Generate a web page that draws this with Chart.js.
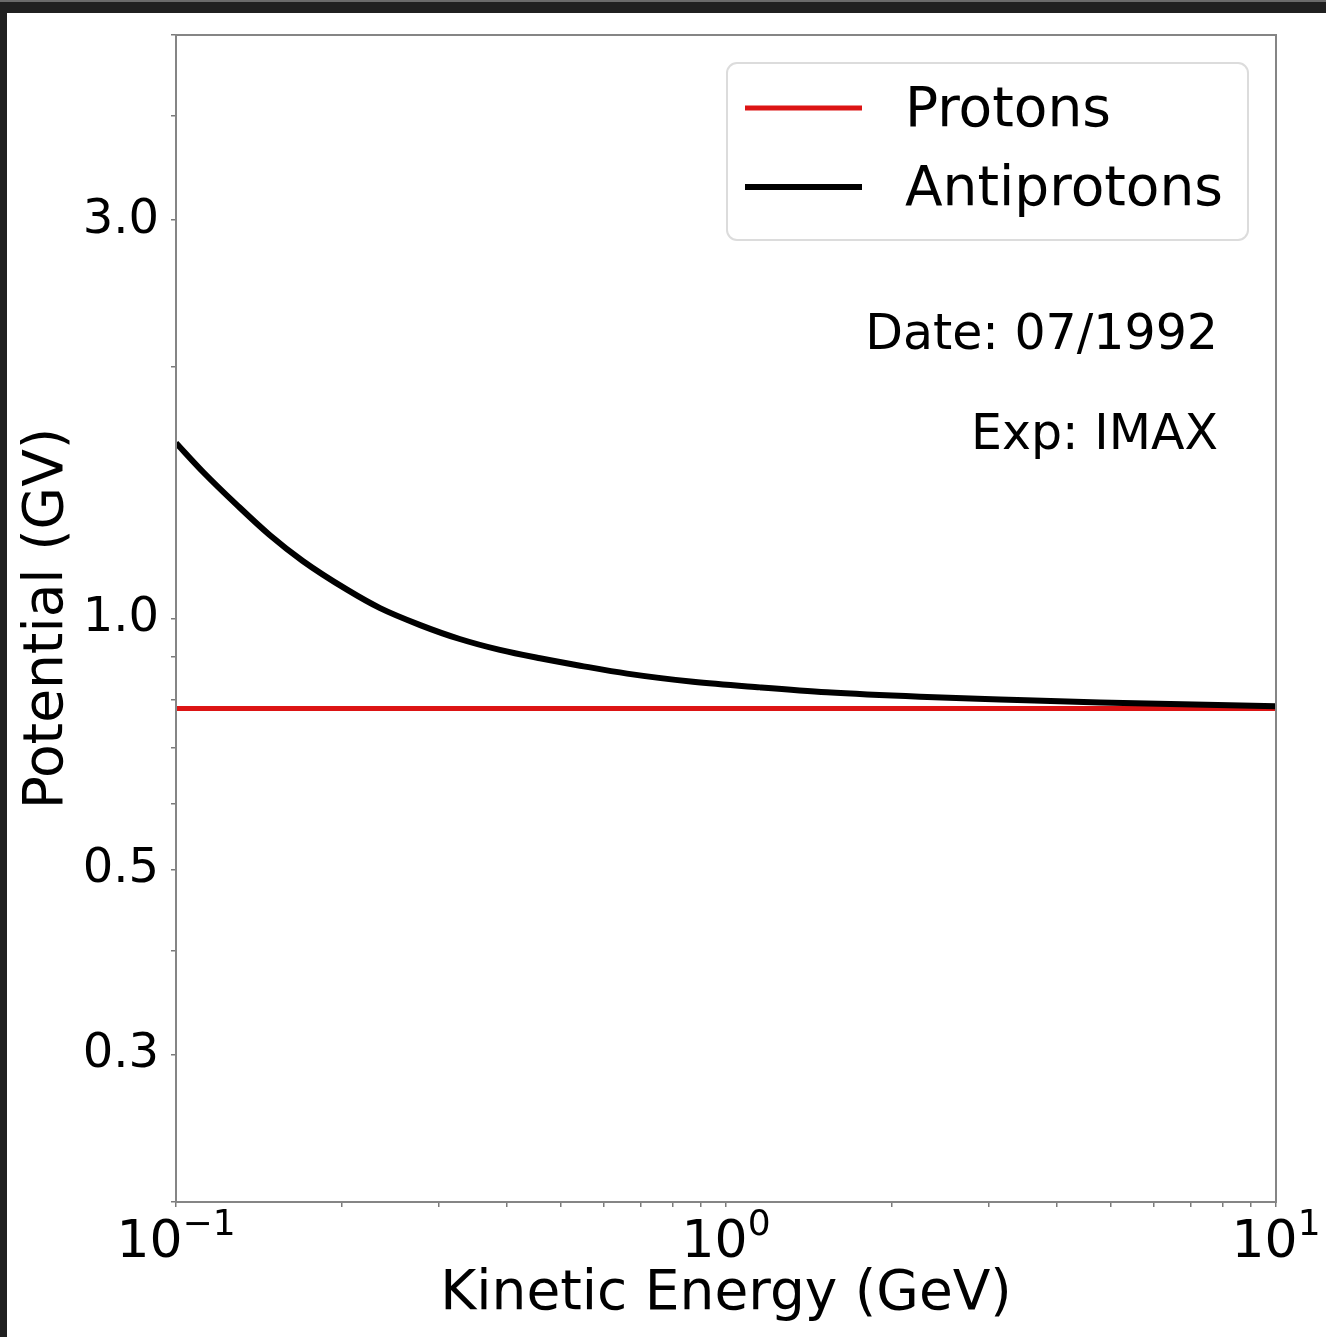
<!DOCTYPE html>
<html>
<head>
<meta charset="utf-8">
<script src="https://cdn.jsdelivr.net/npm/chart.js@4.4.1/dist/chart.umd.min.js"></script>
<style>
  html, body { margin: 0; padding: 0; }
  body { width: 1326px; height: 1337px; position: relative; overflow: hidden; background: #202020; }
  #topo { position: absolute; left: 0; top: 0; width: 1326px; height: 2px; background: #6a6a6a; }
  #quadro { position: absolute; left: 7px; top: 13px; width: 1319px; height: 1324px; background: #fff; }
</style>
</head>
<body>
<div id="topo"></div>
<div id="quadro"><canvas id="potencial" width="1319" height="1324"></canvas></div>
<script>
// energia cinetica (GeV) e potencial de modulacao (GV)
var energiaGeV = [0.1, 0.112, 0.129, 0.148, 0.170, 0.205, 0.235, 0.278, 0.328, 0.388,
                  0.459, 0.543, 0.661, 0.871, 1.153, 1.526, 2.253, 3.149, 4.786, 10];
var phiAntiprotons = [1.623, 1.498, 1.368, 1.259, 1.172, 1.082, 1.029, 0.982, 0.945, 0.917,
                      0.896, 0.878, 0.859, 0.840, 0.827, 0.816, 0.806, 0.800, 0.793, 0.785];
var energiaProtons = [0.1, 10];
var phiProtons = [0.78, 0.78];

// eixos
var xTicks = [0.1, 0.2, 0.3, 0.4, 0.5, 0.6, 0.7, 0.8, 0.9, 1, 2, 3, 4, 5, 6, 7, 8, 9, 10];
var xMajor = [0.1, 1, 10];
var xExpoente = ['\u22121', '0', '1'];
var yTicks = [0.2, 0.3, 0.4, 0.5, 0.6, 0.7, 0.8, 0.9, 1, 2, 3, 4, 5];
var yMajor = [0.3, 0.5, 1.0, 3.0];
var yRotulos = ['0.3', '0.5', '1.0', '3.0'];

var notas = ['Date: 07/1992', 'Exp: IMAX'];

var FONTE = "'DejaVu Sans', sans-serif";

function pontos(xs, ys) {
    return xs.map(function (x, i) { return { x: x, y: ys[i] }; });
}

// moldura, rotulos 10^n, legenda e anotacoes
var extras = {
    id: 'extras',
    afterDraw: function (chart) {
        var ctx = chart.ctx;
        var a = chart.chartArea;
        ctx.save();

        ctx.strokeStyle = '#858585';
        ctx.lineWidth = 2;
        ctx.strokeRect(a.left, a.top, a.right - a.left, a.bottom - a.top);

        // rotulos do eixo x
        var sx = chart.scales.x;
        var baseY = a.bottom + 55;
        ctx.fillStyle = '#000';
        ctx.textAlign = 'left';
        ctx.textBaseline = 'alphabetic';
        xMajor.forEach(function (v, i) {
            var px = sx.getPixelForValue(v);
            ctx.font = '52px ' + FONTE;
            var wb = ctx.measureText('10').width;
            ctx.font = '36px ' + FONTE;
            var we = ctx.measureText(xExpoente[i]).width;
            var x0 = px - (wb + we) / 2;
            ctx.font = '52px ' + FONTE;
            ctx.fillText('10', x0, baseY);
            ctx.font = '36px ' + FONTE;
            ctx.fillText(xExpoente[i], x0 + wb, baseY - 22);
        });

        // legenda
        var lx = 720, ly = 50, lw = 521, lh = 177, r = 10;
        ctx.beginPath();
        ctx.moveTo(lx + r, ly);
        ctx.arcTo(lx + lw, ly, lx + lw, ly + lh, r);
        ctx.arcTo(lx + lw, ly + lh, lx, ly + lh, r);
        ctx.arcTo(lx, ly + lh, lx, ly, r);
        ctx.arcTo(lx, ly, lx + lw, ly, r);
        ctx.closePath();
        ctx.fillStyle = 'rgba(255,255,255,0.8)';
        ctx.fill();
        ctx.strokeStyle = '#dcdcdc';
        ctx.lineWidth = 2;
        ctx.stroke();

        var linhas = [95, 174];
        chart.data.datasets.forEach(function (ds, i) {
            ctx.strokeStyle = ds.borderColor;
            ctx.lineWidth = ds.borderWidth;
            ctx.beginPath();
            ctx.moveTo(738, linhas[i]);
            ctx.lineTo(855, linhas[i]);
            ctx.stroke();
            ctx.fillStyle = '#000';
            ctx.font = '55px ' + FONTE;
            ctx.textAlign = 'left';
            ctx.textBaseline = 'middle';
            ctx.fillText(ds.label, 898, linhas[i] + 4);
        });

        // anotacoes
        ctx.font = '49px ' + FONTE;
        ctx.textAlign = 'right';
        ctx.textBaseline = 'middle';
        ctx.fillStyle = '#000';
        ctx.fillText(notas[0], 1211, 323);
        ctx.fillText(notas[1], 1211, 423);

        ctx.restore();
    }
};

var ctx = document.getElementById('potencial').getContext('2d');
var chart = new Chart(ctx, {
    type: 'line',
    data: {
        datasets: [{
            label: 'Protons',
            data: pontos(energiaProtons, phiProtons),
            borderColor: '#dc1414',
            borderWidth: 5,
            pointRadius: 0,
            order: 1
        }, {
            label: 'Antiprotons',
            data: pontos(energiaGeV, phiAntiprotons),
            borderColor: '#000000',
            borderWidth: 6,
            pointRadius: 0,
            cubicInterpolationMode: 'monotone',
            order: 0
        }]
    },
    options: {
        responsive: false,
        animation: false,
        layout: { padding: { top: 22, right: 50, left: 0, bottom: 0 } },
        plugins: {
            legend: { display: false },
            tooltip: { enabled: false }
        },
        scales: {
            x: {
                type: 'logarithmic',
                min: 0.1,
                max: 10,
                border: { display: false },
                grid: { drawOnChartArea: false, drawTicks: true, tickLength: 5, color: '#7a7a7a', lineWidth: 1.5 },
                ticks: {
                    autoSkip: false,
                    maxRotation: 0,
                    callback: function () { return ''; }
                },
                afterBuildTicks: function (scale) {
                    scale.ticks = xTicks.map(function (v) { return { value: v }; });
                },
                afterFit: function (scale) {
                    scale.height = 135;
                    scale.paddingLeft = 0;
                    scale.paddingRight = 0;
                },
                title: {
                    display: true,
                    text: 'Kinetic Energy (GeV)',
                    color: '#000',
                    font: { family: FONTE, size: 55, lineHeight: 1 },
                    padding: { top: 0, bottom: 15 }
                }
            },
            y: {
                type: 'logarithmic',
                min: 0.2,
                max: 5.0,
                border: { display: false },
                grid: { drawOnChartArea: false, drawTicks: true, tickLength: 5, color: '#7a7a7a', lineWidth: 1.5 },
                ticks: {
                    autoSkip: false,
                    padding: 12,
                    color: '#000',
                    font: { family: FONTE, size: 48 },
                    callback: function (v) {
                        var i = yMajor.findIndex(function (m) { return Math.abs(m - v) < 1e-9; });
                        return i >= 0 ? yRotulos[i] : '';
                    }
                },
                afterBuildTicks: function (scale) {
                    scale.ticks = yTicks.map(function (v) { return { value: v }; });
                },
                afterFit: function (scale) {
                    scale.width = 169;
                    scale.paddingTop = 0;
                    scale.paddingBottom = 0;
                },
                title: {
                    display: true,
                    text: 'Potential (GV)',
                    color: '#000',
                    font: { family: FONTE, size: 55, lineHeight: 1 },
                    padding: { top: 13, bottom: 0 }
                }
            }
        }
    },
    plugins: [extras]
});
</script>
</body>
</html>
